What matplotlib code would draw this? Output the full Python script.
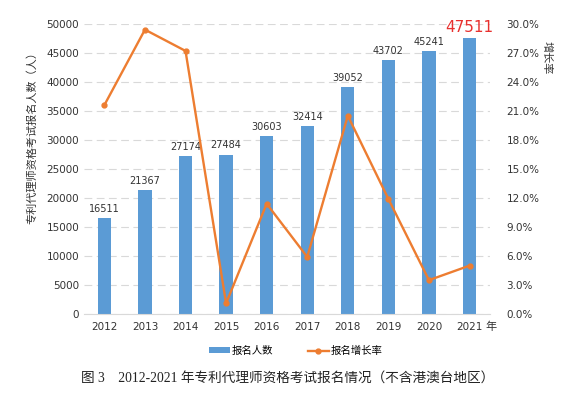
import numpy as np
import matplotlib.pyplot as plt
from matplotlib.ticker import FuncFormatter

plt.rcParams['font.family'] = ['DejaVu Sans', 'Noto Sans CJK SC']

years = ['2012', '2013', '2014', '2015', '2016', '2017', '2018', '2019', '2020', '2021']
applicants = [16511, 21367, 27174, 27484, 30603, 32414, 39052, 43702, 45241, 47511]
growth = [21.6, 29.4, 27.2, 1.1, 11.4, 5.9, 20.5, 11.9, 3.5, 5.0]

blue = '#5B9BD5'
orange = '#ED7D31'

fig = plt.figure(figsize=(5.88, 4.11), dpi=100)
ax = fig.add_axes([0.143, 0.236, 0.690, 0.706])
x = np.arange(len(years))

ax.bar(x, applicants, width=0.33, color=blue, zorder=2, label='报名人数')
ax.set_xlim(-0.5, len(years) - 0.5)
ax.set_ylim(0, 50000)
ax.set_yticks(range(0, 50001, 5000))
ax.set_xticks(x)
ax.set_xticklabels(years)
ax.grid(axis='y', color='#D9D9D9', linestyle=(0, (7, 4)), linewidth=0.8, zorder=0)
for s in ['top', 'left', 'right']:
    ax.spines[s].set_visible(False)
ax.spines['bottom'].set_color('#D9D9D9')
ax.tick_params(length=0, labelsize=7.5, colors='#333333')
ax.tick_params(axis='x', pad=6)
ax.set_ylabel('专利代理师资格考试报名人数（人）', fontsize=8, color='#333333',
              family=['Noto Sans CJK SC'])
ax.yaxis.set_label_coords(-0.115, 0.617)

for i, v in enumerate(applicants):
    if i == len(applicants) - 1:
        ax.text(i, v + 500, str(v), ha='center', va='bottom', fontsize=11, color='#E8312F')
    else:
        ax.text(i, v + 700, str(v), ha='center', va='bottom', fontsize=7, color='#333333')

ax2 = ax.twinx()
ax2.plot(x, growth, color=orange, linewidth=1.7, marker='o', markersize=3.5, zorder=3,
         label='报名增长率')
ax2.set_ylim(0, 30)
ax2.set_yticks(np.arange(0, 30.1, 3))
ax2.yaxis.set_major_formatter(FuncFormatter(lambda v, p: f'{v:.1f}%'))
for s in ['top', 'left', 'right', 'bottom']:
    ax2.spines[s].set_visible(False)
ax2.tick_params(length=0, labelsize=7.5, colors='#333333', pad=12)
fig.text(0.930, 0.859, '增长率', rotation=-90, ha='center', va='center', fontsize=8,
         color='#333333', family=['Noto Sans CJK SC'])

fig.text(0.835, 0.205, '年', ha='center', va='center', fontsize=8, color='#333333',
         family=['Noto Sans CJK SC'])

h1, l1 = ax.get_legend_handles_labels()
h2, l2 = ax2.get_legend_handles_labels()
fig.legend(h1 + h2, l1 + l2, loc='center', bbox_to_anchor=(0.503, 0.146), ncol=2,
           frameon=False, handlelength=2.0, handleheight=0.5, handletextpad=0.2,
           columnspacing=3.3, prop={'family': ['Noto Sans CJK SC'], 'size': 7.5})

fig.text(0.137, 0.080, '图 3    2012-2021 年专利代理师资格考试报名情况（不含港澳台地区）',
         ha='left', va='center', fontsize=9.8, color='#222222',
         family=['Liberation Serif', 'Noto Sans CJK SC'])

fig.savefig('out.png', dpi=100)
